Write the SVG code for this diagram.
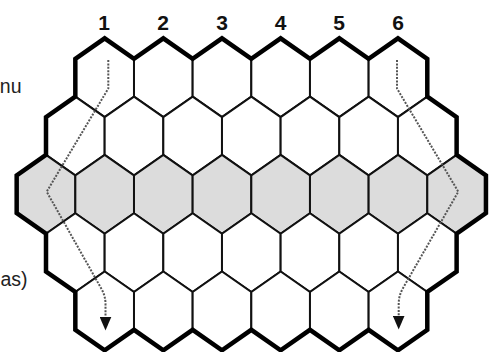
<svg xmlns="http://www.w3.org/2000/svg" xmlns:xlink="http://www.w3.org/1999/xlink" width="498" height="352" viewBox="0 0 498 352">
<style>
.hx{stroke:#111;stroke-width:2;stroke-linejoin:miter}
.w{fill:#ffffff}
.g{fill:#dcdcdc}
.outer{fill:none;stroke:#000;stroke-width:4.5;stroke-linejoin:miter}
.path{fill:none;stroke:#555;stroke-width:2;stroke-dasharray:2 1.4}
.num{font-family:"Liberation Sans",Arial,sans-serif;font-weight:bold;font-size:21px;fill:#111;text-anchor:middle}
.side{font-family:"Liberation Sans",Arial,sans-serif;font-size:19.5px;fill:#222;text-anchor:end}
</style>
<defs>
<polygon id="hx" points="0,-39.4 29.33,-18.9 29.33,18.9 0,39.4 -29.33,18.9 -29.33,-18.9"/>
<marker id="ah" viewBox="0 0 14 12" refX="0" refY="6" markerWidth="14" markerHeight="12" markerUnits="userSpaceOnUse" orient="auto">
<path d="M0,0 L14,6 L0,12 Z" fill="#111"/>
</marker>
</defs>
<rect width="498" height="352" fill="#ffffff"/>
<g id="labels">
<text class="num" x="104" y="30">1</text>
<text class="num" x="163" y="30">2</text>
<text class="num" x="222" y="30">3</text>
<text class="num" x="280.5" y="30">4</text>
<text class="num" x="339" y="30">5</text>
<text class="num" x="398" y="30">6</text>
<text class="side" x="21.5" y="93">nu</text>
<text class="side" x="27.5" y="286">as)</text>
</g>
<g id="row1">
<g id="hex-1-1"><use href="#hx" x="104.66" y="77.7" class="hx w"/></g>
<g id="hex-1-2"><use href="#hx" x="163.32" y="77.7" class="hx w"/></g>
<g id="hex-1-3"><use href="#hx" x="221.98" y="77.7" class="hx w"/></g>
<g id="hex-1-4"><use href="#hx" x="280.64" y="77.7" class="hx w"/></g>
<g id="hex-1-5"><use href="#hx" x="339.30" y="77.7" class="hx w"/></g>
<g id="hex-1-6"><use href="#hx" x="397.96" y="77.7" class="hx w"/></g>
</g>
<g id="row2">
<g id="hex-2-1"><use href="#hx" x="75.33" y="136" class="hx w"/></g>
<g id="hex-2-2"><use href="#hx" x="133.99" y="136" class="hx w"/></g>
<g id="hex-2-3"><use href="#hx" x="192.65" y="136" class="hx w"/></g>
<g id="hex-2-4"><use href="#hx" x="251.31" y="136" class="hx w"/></g>
<g id="hex-2-5"><use href="#hx" x="309.97" y="136" class="hx w"/></g>
<g id="hex-2-6"><use href="#hx" x="368.63" y="136" class="hx w"/></g>
<g id="hex-2-7"><use href="#hx" x="427.29" y="136" class="hx w"/></g>
</g>
<g id="row3">
<g id="hex-3-1"><use href="#hx" x="46" y="194.3" class="hx g"/></g>
<g id="hex-3-2"><use href="#hx" x="104.66" y="194.3" class="hx g"/></g>
<g id="hex-3-3"><use href="#hx" x="163.32" y="194.3" class="hx g"/></g>
<g id="hex-3-4"><use href="#hx" x="221.98" y="194.3" class="hx g"/></g>
<g id="hex-3-5"><use href="#hx" x="280.64" y="194.3" class="hx g"/></g>
<g id="hex-3-6"><use href="#hx" x="339.30" y="194.3" class="hx g"/></g>
<g id="hex-3-7"><use href="#hx" x="397.96" y="194.3" class="hx g"/></g>
<g id="hex-3-8"><use href="#hx" x="456.62" y="194.3" class="hx g"/></g>
</g>
<g id="row4">
<g id="hex-4-1"><use href="#hx" x="75.33" y="252.6" class="hx w"/></g>
<g id="hex-4-2"><use href="#hx" x="133.99" y="252.6" class="hx w"/></g>
<g id="hex-4-3"><use href="#hx" x="192.65" y="252.6" class="hx w"/></g>
<g id="hex-4-4"><use href="#hx" x="251.31" y="252.6" class="hx w"/></g>
<g id="hex-4-5"><use href="#hx" x="309.97" y="252.6" class="hx w"/></g>
<g id="hex-4-6"><use href="#hx" x="368.63" y="252.6" class="hx w"/></g>
<g id="hex-4-7"><use href="#hx" x="427.29" y="252.6" class="hx w"/></g>
</g>
<g id="row5">
<g id="hex-5-1"><use href="#hx" x="104.66" y="310.9" class="hx w"/></g>
<g id="hex-5-2"><use href="#hx" x="163.32" y="310.9" class="hx w"/></g>
<g id="hex-5-3"><use href="#hx" x="221.98" y="310.9" class="hx w"/></g>
<g id="hex-5-4"><use href="#hx" x="280.64" y="310.9" class="hx w"/></g>
<g id="hex-5-5"><use href="#hx" x="339.30" y="310.9" class="hx w"/></g>
<g id="hex-5-6"><use href="#hx" x="397.96" y="310.9" class="hx w"/></g>
</g>
<g id="border">
<path class="outer" d="M75.33,58.8 L104.66,38.3 L133.99,58.8 L163.32,38.3 L192.65,58.8 L221.98,38.3 L251.31,58.8 L280.64,38.3 L309.97,58.8 L339.30,38.3 L368.63,58.8 L397.96,38.3 L427.29,58.8 V96.6 L456.62,117.1 V154.9 L485.95,175.4 V213.2 L456.62,233.7 V271.5 L427.29,292 V329.8 L397.96,350.3 L368.63,329.8 L339.30,350.3 L309.97,329.8 L280.64,350.3 L251.31,329.8 L221.98,350.3 L192.65,329.8 L163.32,350.3 L133.99,329.8 L104.66,350.3 L75.33,329.8 V292 L46,271.5 V233.7 L16.67,213.2 V175.4 L46,154.9 V117.1 L75.33,96.6 Z"/>
</g>
<g id="connectors">
<path class="path" d="M108.3,60 V88.5 L46.7,191.7 L101.5,289 Q105.5,296 105.5,304 V316.5" marker-end="url(#ah)"/>
<path class="path" d="M397,60 V88.5 L458.3,191.7 L402.5,289 Q398.7,296 398.7,304 V315.5" marker-end="url(#ah)"/>
</g>
</svg>
